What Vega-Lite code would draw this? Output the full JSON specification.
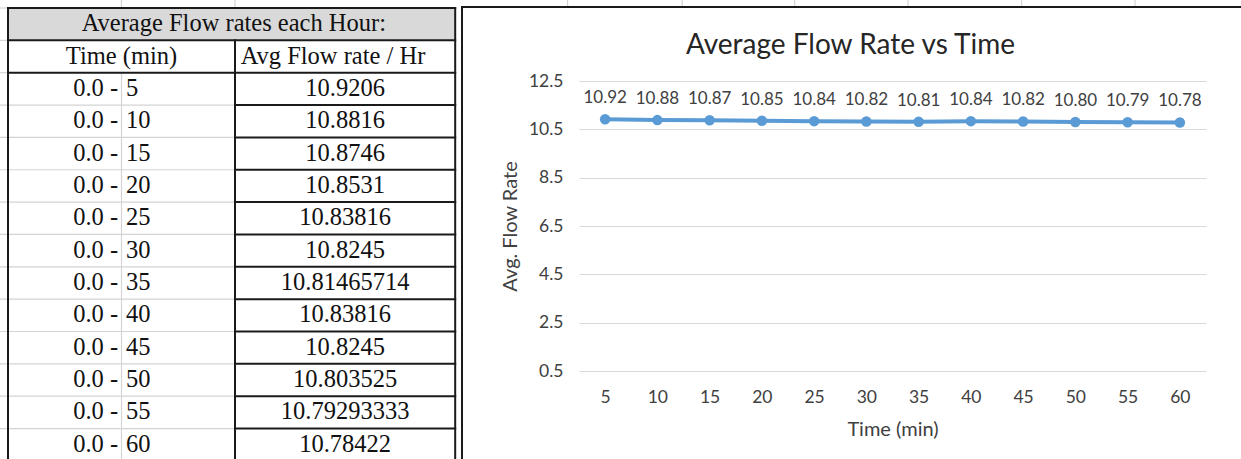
{
  "$schema": "https://vega.github.io/schema/vega-lite/v6.json",
  "width": 1241,
  "height": 459,
  "padding": 0,
  "autosize": {"type": "none"},
  "background": "white",
  "config": {"view": {"stroke": null}},
  "title": {
    "text": "Average Flow Rate vs Time",
    "font": "Lato",
    "fontSize": 28,
    "fontWeight": "normal",
    "color": "#262626",
    "anchor": "middle",
    "dx": 230,
    "dy": 61,
    "offset": 0
  },
  "datasets": {
    "flow": [
      {"time": 5, "rate": 10.9206},
      {"time": 10, "rate": 10.8816},
      {"time": 15, "rate": 10.8746},
      {"time": 20, "rate": 10.8531},
      {"time": 25, "rate": 10.83816},
      {"time": 30, "rate": 10.8245},
      {"time": 35, "rate": 10.81465714},
      {"time": 40, "rate": 10.83816},
      {"time": 45, "rate": 10.8245},
      {"time": 50, "rate": 10.803525},
      {"time": 55, "rate": 10.79293333},
      {"time": 60, "rate": 10.78422}
    ],
    "blackLines": [
      {"x": 0, "x2": 3.94, "y": -7.5, "y2": -7.5},
      {"x": 0, "x2": 3.94, "y": -2.5, "y2": -2.5},
      {"x": 0, "x2": 3.94, "y": 2.5, "y2": 2.5},
      {"x": 2, "x2": 3.94, "y": 7.5, "y2": 7.5},
      {"x": 2, "x2": 3.94, "y": 12.5, "y2": 12.5},
      {"x": 2, "x2": 3.94, "y": 17.5, "y2": 17.5},
      {"x": 2, "x2": 3.94, "y": 22.5, "y2": 22.5},
      {"x": 2, "x2": 3.94, "y": 27.5, "y2": 27.5},
      {"x": 2, "x2": 3.94, "y": 32.5, "y2": 32.5},
      {"x": 2, "x2": 3.94, "y": 37.5, "y2": 37.5},
      {"x": 2, "x2": 3.94, "y": 42.5, "y2": 42.5},
      {"x": 2, "x2": 3.94, "y": 47.5, "y2": 47.5},
      {"x": 2, "x2": 3.94, "y": 52.5, "y2": 52.5},
      {"x": 2, "x2": 3.94, "y": 57.5, "y2": 57.5},
      {"x": 0, "x2": 0, "y": -7.5, "y2": 63},
      {"x": 3.94, "x2": 3.94, "y": -7.5, "y2": 63},
      {"x": 2, "x2": 2, "y": -2.5, "y2": 63},
      {"x": 4, "x2": 11, "y": -7.65, "y2": -7.65},
      {"x": 4, "x2": 4, "y": -7.65, "y2": 63}
    ],
    "grayLines": [
      {"x": -0.08, "x2": 0, "y": -7.5, "y2": -7.5},
      {"x": -0.08, "x2": 0, "y": -2.5, "y2": -2.5},
      {"x": -0.08, "x2": 0, "y": 2.5, "y2": 2.5},
      {"x": -0.08, "x2": 2, "y": 7.5, "y2": 7.5},
      {"x": -0.08, "x2": 2, "y": 12.5, "y2": 12.5},
      {"x": -0.08, "x2": 2, "y": 17.5, "y2": 17.5},
      {"x": -0.08, "x2": 2, "y": 22.5, "y2": 22.5},
      {"x": -0.08, "x2": 2, "y": 27.5, "y2": 27.5},
      {"x": -0.08, "x2": 2, "y": 32.5, "y2": 32.5},
      {"x": -0.08, "x2": 2, "y": 37.5, "y2": 37.5},
      {"x": -0.08, "x2": 2, "y": 42.5, "y2": 42.5},
      {"x": -0.08, "x2": 2, "y": 47.5, "y2": 47.5},
      {"x": -0.08, "x2": 2, "y": 52.5, "y2": 52.5},
      {"x": -0.08, "x2": 2, "y": 57.5, "y2": 57.5},
      {"x": 1, "x2": 1, "y": 2.5, "y2": 63},
      {"x": 1, "x2": 1, "y": -8.8, "y2": -7.5},
      {"x": 2, "x2": 2, "y": -8.8, "y2": -7.5},
      {"x": 4.93, "x2": 4.93, "y": -8.8, "y2": -7.65},
      {"x": 5.94, "x2": 5.94, "y": -8.8, "y2": -7.65},
      {"x": 6.93, "x2": 6.93, "y": -8.8, "y2": -7.65},
      {"x": 7.93, "x2": 7.93, "y": -8.8, "y2": -7.65},
      {"x": 8.93, "x2": 8.93, "y": -8.8, "y2": -7.65},
      {"x": 9.93, "x2": 9.93, "y": -8.8, "y2": -7.65}
    ]
  },
  "layer": [
    {
      "layer": [
        {
          "data": {"values": [{"part": "title row"}]},
          "mark": {"type": "rect", "fill": "#D9D9D9"},
          "encoding": {
            "x": {"datum": 0, "type": "quantitative", "scale": {"domain": [0, 4], "range": [8, 462], "zero": false, "nice": false}, "axis": null},
            "x2": {"datum": 3.94},
            "y": {"datum": -7.5, "type": "quantitative", "scale": {"domain": [-7.5, 62.5], "range": [8, 460.9], "zero": false, "nice": false}, "axis": null},
            "y2": {"datum": -2.5}
          }
        },
        {
          "data": {"name": "grayLines"},
          "mark": {"type": "rule", "color": "#D4D4D4", "strokeWidth": 1.2},
          "encoding": {
            "x": {"field": "x", "type": "quantitative", "scale": {"domain": [0, 4], "range": [8, 462], "zero": false, "nice": false}, "axis": null},
            "x2": {"field": "x2"},
            "y": {"field": "y", "type": "quantitative", "scale": {"domain": [-7.5, 62.5], "range": [8, 460.9], "zero": false, "nice": false}, "axis": null},
            "y2": {"field": "y2"}
          }
        },
        {
          "data": {"name": "blackLines"},
          "mark": {"type": "rule", "color": "#1a1a1a", "strokeWidth": 2, "strokeCap": "square"},
          "encoding": {
            "x": {"field": "x", "type": "quantitative", "scale": {"domain": [0, 4], "range": [8, 462], "zero": false, "nice": false}, "axis": null},
            "x2": {"field": "x2"},
            "y": {"field": "y", "type": "quantitative", "scale": {"domain": [-7.5, 62.5], "range": [8, 460.9], "zero": false, "nice": false}, "axis": null},
            "y2": {"field": "y2"}
          }
        },
        {
          "data": {"values": [{"label": "Average Flow rates each Hour:"}]},
          "mark": {"type": "text", "font": "Liberation Serif", "fontSize": 24.5, "color": "#111111", "align": "center", "baseline": "middle"},
          "encoding": {
            "x": {"datum": 1.99, "type": "quantitative", "scale": {"domain": [0, 4], "range": [8, 462], "zero": false, "nice": false}, "axis": null},
            "y": {"datum": -5, "type": "quantitative", "scale": {"domain": [-7.5, 62.5], "range": [8, 460.9], "zero": false, "nice": false}, "axis": null},
            "text": {"field": "label"}
          }
        },
        {
          "data": {"values": [{"label": "Time (min)"}]},
          "mark": {"type": "text", "font": "Liberation Serif", "fontSize": 24.5, "color": "#111111", "align": "center", "baseline": "middle"},
          "encoding": {
            "x": {"datum": 1.0, "type": "quantitative", "scale": {"domain": [0, 4], "range": [8, 462], "zero": false, "nice": false}, "axis": null},
            "y": {"datum": 0, "type": "quantitative", "scale": {"domain": [-7.5, 62.5], "range": [8, 460.9], "zero": false, "nice": false}, "axis": null},
            "text": {"field": "label"}
          }
        },
        {
          "data": {"values": [{"label": "Avg Flow rate / Hr"}]},
          "mark": {"type": "text", "font": "Liberation Serif", "fontSize": 24.5, "color": "#111111", "align": "left", "baseline": "middle"},
          "encoding": {
            "x": {"datum": 2.05, "type": "quantitative", "scale": {"domain": [0, 4], "range": [8, 462], "zero": false, "nice": false}, "axis": null},
            "y": {"datum": 0, "type": "quantitative", "scale": {"domain": [-7.5, 62.5], "range": [8, 460.9], "zero": false, "nice": false}, "axis": null},
            "text": {"field": "label"}
          }
        },
        {
          "data": {"name": "flow"},
          "mark": {"type": "text", "font": "Liberation Serif", "fontSize": 24.5, "color": "#111111", "align": "right", "baseline": "middle"},
          "encoding": {
            "x": {"datum": 0.97, "type": "quantitative", "scale": {"domain": [0, 4], "range": [8, 462], "zero": false, "nice": false}, "axis": null},
            "y": {"field": "time", "type": "quantitative", "scale": {"domain": [-7.5, 62.5], "range": [8, 460.9], "zero": false, "nice": false}, "axis": null},
            "text": {"value": "0.0 -"}
          }
        },
        {
          "data": {"name": "flow"},
          "mark": {"type": "text", "font": "Liberation Serif", "fontSize": 24.5, "color": "#111111", "align": "left", "baseline": "middle"},
          "encoding": {
            "x": {"datum": 1.04, "type": "quantitative", "scale": {"domain": [0, 4], "range": [8, 462], "zero": false, "nice": false}, "axis": null},
            "y": {"field": "time", "type": "quantitative", "scale": {"domain": [-7.5, 62.5], "range": [8, 460.9], "zero": false, "nice": false}, "axis": null},
            "text": {"field": "time", "type": "nominal"}
          }
        },
        {
          "data": {"name": "flow"},
          "mark": {"type": "text", "font": "Liberation Serif", "fontSize": 24.5, "color": "#111111", "align": "center", "baseline": "middle"},
          "encoding": {
            "x": {"datum": 2.97, "type": "quantitative", "scale": {"domain": [0, 4], "range": [8, 462], "zero": false, "nice": false}, "axis": null},
            "y": {"field": "time", "type": "quantitative", "scale": {"domain": [-7.5, 62.5], "range": [8, 460.9], "zero": false, "nice": false}, "axis": null},
            "text": {"field": "rate", "type": "nominal"}
          }
        }
      ]
    },
    {
      "data": {"name": "flow"},
      "layer": [
        {
          "mark": {"type": "line", "color": "#5B9BD5", "strokeWidth": 4},
          "encoding": {
            "x": {
              "field": "time", "type": "ordinal",
              "scale": {"type": "point", "padding": 0.5, "range": [579, 1206]},
              "axis": {
                "title": "Time (min)", "labelAngle": 0, "offset": -88, "domain": false, "ticks": false, "grid": false,
                "labelPadding": 17, "labelFont": "Lato", "labelFontSize": 17.5, "labelColor": "#404040",
                "titleFont": "Lato", "titleFontSize": 20, "titleFontWeight": "normal", "titleColor": "#404040", "titlePadding": 14
              }
            },
            "y": {
              "field": "rate", "type": "quantitative",
              "scale": {"domain": [0.5, 12.5], "range": [371, 81], "zero": false, "nice": false},
              "axis": {
                "title": "Avg. Flow Rate", "values": [0.5, 2.5, 4.5, 6.5, 8.5, 10.5, 12.5], "format": ".1f",
                "offset": -579, "domain": false, "ticks": false, "grid": true, "gridColor": "#D9D9D9", "gridWidth": 1,
                "labelPadding": 16, "labelFont": "Lato", "labelFontSize": 17.5, "labelColor": "#404040",
                "titleFont": "Lato", "titleFontSize": 20, "titleFontWeight": "normal", "titleColor": "#404040", "titlePadding": 8
              }
            }
          }
        },
        {
          "mark": {"type": "point", "filled": true, "color": "#5B9BD5", "size": 110, "opacity": 1},
          "encoding": {
            "x": {"field": "time", "type": "ordinal"},
            "y": {"field": "rate", "type": "quantitative"}
          }
        },
        {
          "mark": {"type": "text", "font": "Lato", "fontSize": 17, "color": "#404040", "dy": -21, "baseline": "middle"},
          "encoding": {
            "x": {"field": "time", "type": "ordinal"},
            "y": {"field": "rate", "type": "quantitative"},
            "text": {"field": "rate", "type": "quantitative", "format": ".2f"}
          }
        }
      ]
    }
  ],
  "resolve": {"scale": {"x": "independent", "y": "independent"}}
}
